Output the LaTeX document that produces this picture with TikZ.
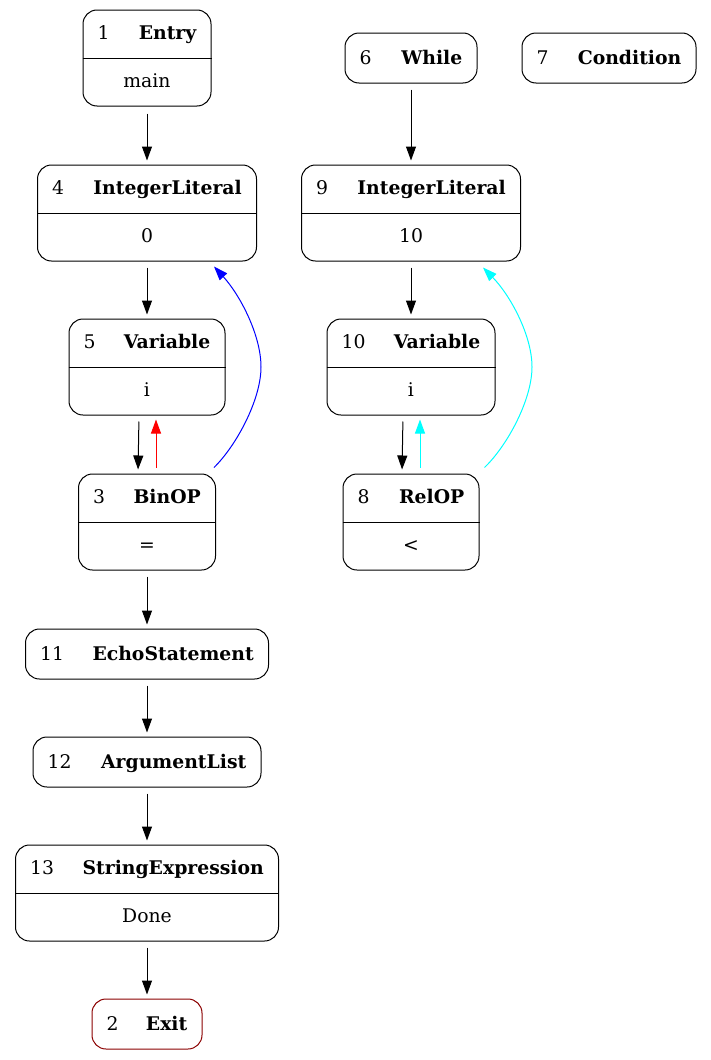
\documentclass[tikz,border=0pt]{standalone}
\usepackage{fontspec}
\setmainfont{DejaVu Serif}
\usetikzlibrary{arrows.meta,calc}
\definecolor{exitred}{RGB}{139,0,0}
\definecolor{purecyan}{RGB}{0,255,255}
\definecolor{pureblue}{RGB}{0,0,255}
\definecolor{purered}{RGB}{255,0,0}
\tikzset{
 recbox/.style={draw, rounded corners=14pt, line width=1pt, inner sep=0pt, minimum height=96pt},
 onebox/.style={draw, rounded corners=14pt, line width=1pt, inner sep=0pt, minimum height=50pt},
 lbl/.style={inner sep=0pt, font=\fontsize{18.8}{22}\selectfont},
 ttl/.style={inner sep=0pt, font=\fontsize{18.8}{22}\selectfont\bfseries},
 edgeline/.style={line width=1pt, -{Triangle[length=14pt,width=10pt]}, shorten <=6pt, shorten >=4pt},
 curveline/.style={line width=1pt, -{Triangle[length=14pt,width=10pt]}},
}
\newcommand\recnode[7]{%
 \node[recbox, minimum width=#4pt] (#1) at (#2,#3) {};
 \draw[line width=1pt] (#1.west) -- (#1.east);
 \node[lbl, anchor=base west] (#1num) at ($(#1.north west)+(15,30)$) {#5};
 \node[ttl, anchor=base east] (#1ttl) at ($(#1.north east)+(-15,30)$) {#6};
 \node[lbl, anchor=base] (#1val) at ($(#1.north)+(0,78)$) {#7};
}
\newcommand\onenode[7][]{%
 \node[onebox, minimum width=#5pt, #1] (#2) at (#3,#4) {};
 \node[lbl, anchor=base west] (#2num) at ($(#2.west)+(15,6)$) {#6};
 \node[ttl, anchor=base east] (#2ttl) at ($(#2.east)+(-15,6)$) {#7};
}
\begin{document}
\begin{tikzpicture}[x=1pt,y=-1pt]
\useasboundingbox (0,0) rectangle (711,1060);
\recnode{n1}{147}{58}{128}{1}{Entry}{main}
\recnode{n4}{147}{213}{219}{4}{IntegerLiteral}{0}
\recnode{n5}{147}{367}{156}{5}{Variable}{i}
\recnode{n3}{147}{522}{137}{3}{BinOP}{=}
\onenode{n6}{411}{58}{132}{6}{While}
\onenode{n7}{609}{58}{174}{7}{Condition}
\recnode{n9}{411}{213}{219}{9}{IntegerLiteral}{10}
\recnode{n10}{411}{367}{168}{10}{Variable}{i}
\recnode{n8}{411}{522}{136}{8}{RelOP}{<}
\onenode{n11}{147}{654}{243}{11}{EchoStatement}
\onenode{n12}{147}{762}{228}{12}{ArgumentList}
\recnode{n13}{147}{893}{263}{13}{StringExpression}{Done}
\onenode[draw=exitred]{n2}{147}{1024}{110}{2}{Exit}

\draw[edgeline, shorten <=7pt] (n1.south) -- (n4.north);
\draw[edgeline] (n4.south) -- (n5.north);
\draw[edgeline] ([xshift=-8pt]n5.south) -- ([xshift=-9pt]n3.north);
\draw[edgeline, purered] ([xshift=9pt]n3.north) -- ([xshift=9pt]n5.south);
\draw[edgeline] (n3.south) -- (n11.north);
\draw[edgeline] (n11.south) -- (n12.north);
\draw[edgeline] (n12.south) -- (n13.north);
\draw[edgeline] (n13.south) -- (n2.north);
\draw[edgeline] (n6.south) -- (n9.north);
\draw[edgeline] (n9.south) -- (n10.north);
\draw[edgeline] ([xshift=-8pt]n10.south) -- ([xshift=-9pt]n8.north);
\draw[edgeline, purecyan] ([xshift=9pt]n8.north) -- ([xshift=9pt]n10.south);
\draw[curveline, pureblue] ($(n3.north east)+(-2,-6)$) .. controls (236,446) and (261,400) .. (261,367)
  .. controls (261,335) and (240,295) .. ($(n4.south east)+(-43,5)$);
\draw[curveline, purecyan] ($(n8.north east)+(5,-6)$) .. controls (507,446) and (532,400) .. (532,367)
  .. controls (532,335) and (510,295) .. ($(n9.south east)+(-38,6)$);
\end{tikzpicture}
\end{document}
